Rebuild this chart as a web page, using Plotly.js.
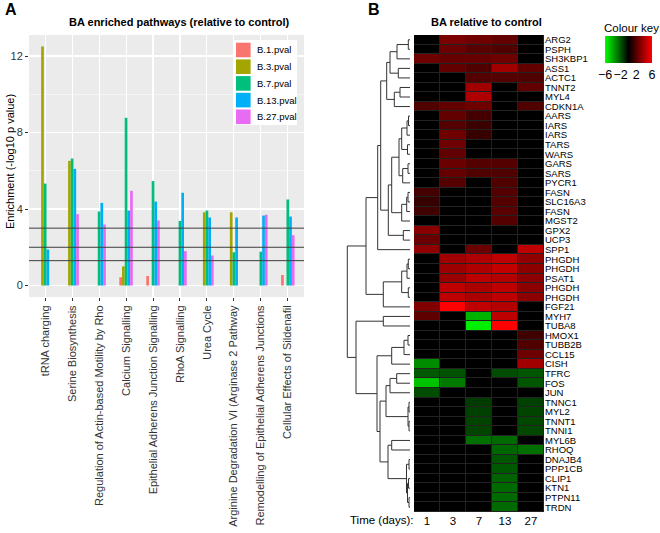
<!DOCTYPE html>
<html><head><meta charset="utf-8">
<script src="https://cdn.plot.ly/plotly-3.0.1.min.js"></script>
<style>html,body{margin:0;padding:0;background:#fff}#chart{width:660px;height:533px}</style>
</head><body><div id="chart"></div>
<script>
// ---------- Panel A data ----------
const pathways = ['tRNA charging','Serine Biosynthesis','Regulation of Actin-based Motility by Rho','Calcium Signalling','Epithelial Adherens Junction Signalling','RhoA Signalling','Urea Cycle','Arginine Degradation VI (Arginase 2 Pathway','Remodelling of Epithelial Adherens Junctions','Cellular Effects of Sildenafil'];
const seriesNames = ['B.1.pval','B.3.pval','B.7.pval','B.13.pval','B.27.pval'];
const seriesColors = ['#F8766D','#A3A500','#00BF7D','#00B0F6','#E76BF3'];
const b1  = [0,    0,    0,    0.43, 0.5,  0,    0,    0,    0,    0.55];
const b3  = [12.5, 6.52, 0,    1.0,  0,    0,    3.83, 3.83, 0,    0];
const b7  = [5.33, 6.64, 3.87, 8.77, 5.46, 3.38, 3.92, 1.74, 1.77, 4.5];
const b13 = [1.88, 6.1,  4.32, 3.92, 4.39, 4.85, 3.56, 3.56, 3.66, 3.61];
const b27 = [0,    3.73, 3.19, 4.95, 3.4,  1.8,  1.57, 0,    3.7,  2.63];
const thresholds = [3, 2, 1.3];
const yTicks = [0, 4, 8, 12];

// ---------- Panel B data ----------
const days = ['1','3','7','13','27'];
const genes = ['ARG2','PSPH','SH3KBP1','ASS1','ACTC1','TNNT2','MYL4','CDKN1A','AARS','IARS','IARS','TARS','WARS','GARS','SARS','PYCR1','FASN','SLC16A3','FASN','MGST2','GPX2','UCP3','SPP1','PHGDH','PHGDH','PSAT1','PHGDH','PHGDH','FGF21','MYH7','TUBA8','HMOX1','TUBB2B','CCL15','CISH','TFRC','FOS','JUN','TNNC1','MYL2','TNNT1','TNNI1','MYL6B','RHOQ','DNAJB4','PPP1CB','CLIP1','KTN1','PTPN11','TRDN'];
const fc = [
 [0,2.9,2.6,2.3,0],[0,2.5,2.1,1.9,0],[2.6,2.4,2.4,2.6,0],[0,2.3,1.9,3.8,2.3],[0,0,2.0,2.0,1.9],
 [0,0,3.8,0,2.3],[0,0,4.1,0,0],[1.9,2.3,2.6,0,1.9],[0,2.3,1.6,0,0],[0,2.0,1.4,0,0],
 [0,2.6,1.3,0,0],[0,2.6,0,0,0],[0,2.3,0,0,0],[0,2.5,2.0,2.0,0],[0,2.4,1.9,1.9,0],
 [0,2.0,0,1.9,0],[1.6,0,0,2.0,0],[1.3,0,0,2.0,0],[1.5,0,0,2.1,0],[0,0,0,2.0,0],
 [3.2,0,0,0,0],[2.5,0,0,0,0],[3.4,0,2.5,0,4.5],[0,3.8,4.1,4.5,3.4],[0,3.7,4.1,4.6,3.3],
 [0,3.6,4.4,4.2,3.3],[0,4.5,4.0,4.5,3.3],[0,4.5,4.0,4.5,3.3],[3.0,6.0,4.5,4.2,0],[2.2,0,-4.2,4.5,0],
 [0,0,-5.6,6.0,0],[0,0,0,0,1.5],[0,0,0,0,1.9],[0,0,0,0,2.6],[-3.3,0,0,0,3.8],
 [-2.1,-1.9,0,-1.8,-2.0],[-4.6,-2.9,0,0,-2.0],[-1.8,0,0,0,0],[0,0,-1.4,0,-1.5],[0,0,-1.5,0,-1.6],
 [0,0,-1.6,0,-1.7],[0,0,-1.6,0,-1.7],[0,0,-2.6,-2.5,0],[0,0,0,-2.4,-2.6],[0,0,0,-2.0,0],
 [0,0,0,-2.1,0],[0,0,0,-2.3,0],[0,0,0,-2.5,0],[0,0,0,-2.5,0],[0,0,0,-2.5,0]
];
// hclust-style merges (negative = leaf row, positive = earlier merge) and heights
const merges = [[-1,-2],[1,-3],[-4,-5],[2,3],[-6,-7],[5,-8],[4,6],[-9,-10],[8,-11],[-12,-13],
 [9,10],[-14,-15],[12,-16],[11,13],[-17,-18],[15,-19],[16,-20],[14,17],[-21,-22],[18,19],
 [7,20],[21,-23],[-24,-25],[23,-26],[-27,-28],[24,25],[26,-29],[22,27],[-30,-31],[-32,-33],
 [30,-34],[31,-35],[-36,-37],[33,-38],[-39,-40],[-41,-42],[35,36],[34,37],[-43,-44],[-45,-46],
 [-47,-48],[-49,-50],[41,42],[40,43],[39,44],[38,45],[32,46],[29,47],[28,48]];
const mergeHeights = [1.7,13,11.7,20,10,15.7,23.3,1.5,3,2.5,
 8.3,2,7.3,11,2,3.3,8.3,18.3,6.7,21.7,
 29.3,32.3,1.7,3,1.7,8.3,26.7,44,26.7,2,
 6,18.3,13.3,20,1,1,2,24,18.3,1,
 1.5,1,2.5,3.5,22,30,33,54,62.7];
const keyTicks = [-6,-2,2,6];

// ---------- helpers ----------
const W = 660, H = 533;
const px = v => v / W, py = v => 1 - v / H;
const FONT = 'Liberation Sans, Arial, Helvetica, sans-serif';

const seriesVals = [b1, b3, b7, b13, b27];
const traces = seriesNames.map((n, i) => ({
  type: 'bar', name: n, x: pathways, y: seriesVals[i],
  marker: {color: seriesColors[i]}, xaxis: 'x', yaxis: 'y', hoverinfo: 'skip', showlegend: false
}));

traces.push({
  type: 'heatmap', x: days, y: genes.map((g, i) => i), z: fc,
  xaxis: 'x2', yaxis: 'y2', zmin: -6, zmax: 6, xgap: 1, ygap: 1,
  colorscale: [[0, '#00ff00'], [0.5, '#000000'], [1, '#ff0000']],
  hoverinfo: 'skip', showlegend: false,
  colorbar: {orientation: 'h', x: px(628.5), xanchor: 'center', y: py(36), yanchor: 'top',
    len: 47, lenmode: 'pixels', thickness: 27, xpad: 0, ypad: 0, outlinewidth: 0,
    tickvals: keyTicks, ticks: '', tickangle: 0, ticklabelposition: 'outside bottom',
    tickfont: {size: 12.5, color: '#000', family: FONT}}
});

// dendrogram segments computed from the merge table
const mPos = [], mH = [];
const dx = [], dy = [];
const info = c => c < 0 ? {y: -c - 1, h: 0} : {y: mPos[c - 1], h: mH[c - 1]};
merges.forEach((m, i) => {
  const a = info(m[0]), b = info(m[1]), h = mergeHeights[i];
  dx.push(a.h, h, h, b.h, null); dy.push(a.y, a.y, b.y, b.y, null);
  mPos[i] = (a.y + b.y) / 2; mH[i] = h;
});
traces.push({type: 'scatter', mode: 'lines', x: dx, y: dy, xaxis: 'x3', yaxis: 'y2',
  line: {color: '#333', width: 1}, hoverinfo: 'skip', showlegend: false, cliponaxis: false});

// manual legend (keys drawn as shapes, labels as text)
const legX = 233, legY = 40, legRow = 16.7, key = 14.6;
const shapes = [
  {type: 'rect', xref: 'x domain', yref: 'y domain', x0: 0, x1: 1, y0: 0, y1: 1,
   fillcolor: '#EBEBEB', line: {width: 0}, layer: 'below'},
  {type: 'rect', xref: 'x2 domain', yref: 'y2 domain', x0: 0, x1: 1, y0: 0, y1: 1,
   fillcolor: '#222', line: {width: 0}, layer: 'below'}
].concat(thresholds.map(t => ({type: 'line', xref: 'x domain', yref: 'y', x0: 0, x1: 1, y0: t, y1: t,
   line: {color: '#3d3d3d', width: 1}})));
shapes.push({type: 'rect', xref: 'paper', yref: 'paper', x0: px(legX), x1: px(297), y0: py(125), y1: py(legY),
  fillcolor: '#fff', line: {width: 0}});
seriesNames.forEach((n, i) => {
  const cy = legY + 10 + i * legRow;
  shapes.push({type: 'rect', xref: 'paper', yref: 'paper', x0: px(236), x1: px(236 + key),
    y0: py(cy + key / 2), y1: py(cy - key / 2), fillcolor: seriesColors[i], line: {width: 0}});
});

const ann = (text, x, y, opts) => Object.assign({text, x: px(x), y: py(y), xref: 'paper', yref: 'paper',
  xanchor: 'center', yanchor: 'middle', showarrow: false,
  font: {family: FONT, size: 11, color: '#000'}}, opts || {});

const annotations = [
  ann('<b>A</b>', 3, 9, {xanchor: 'left', font: {family: FONT, size: 16, color: '#000'}}),
  ann('<b>B</b>', 366, 9, {xanchor: 'left', font: {family: FONT, size: 16, color: '#000'}}),
  ann('<b>BA enriched pathways (relative to control)</b>', 179, 22, {font: {family: FONT, size: 11, color: '#000'}}),
  ann('Enrichment (-log10 p value)', 10, 162, {textangle: -90, font: {family: FONT, size: 11, color: '#000'}}),
  ann('<b>BA relative to control</b>', 486.5, 22, {font: {family: FONT, size: 11, color: '#000'}}),
  ann('Time (days):', 348, 520, {xanchor: 'left', font: {family: FONT, size: 11.5, color: '#000'}}),
  ann('Colour key', 631, 27.5, {font: {family: FONT, size: 11.5, color: '#000'}})
];
seriesNames.forEach((n, i) => {
  annotations.push(ann(n, 255, legY + 10 + i * legRow, {xanchor: 'left', font: {family: FONT, size: 9.5, color: '#000'}}));
});

const layout = {
  width: W, height: H, margin: {l: 0, r: 0, t: 0, b: 0},
  paper_bgcolor: '#fff', plot_bgcolor: 'rgba(0,0,0,0)',
  font: {family: FONT, color: '#000'},
  barmode: 'group', bargap: 0.5, bargroupgap: 0,
  showlegend: false,
  xaxis: {domain: [px(29), px(304)], anchor: 'y', range: [-0.6, 9.6], type: 'category',
    showgrid: true, gridcolor: '#fff', gridwidth: 1.1, zeroline: false, showline: false,
    ticks: 'outside', ticklen: 3, tickcolor: '#333', tickangle: -90,
    tickfont: {size: 11, color: '#333', family: FONT}, automargin: false},
  yaxis: {domain: [py(297), py(35)], anchor: 'x', range: [-0.6, 13.1], tickvals: yTicks,
    showgrid: true, gridcolor: '#fff', gridwidth: 1.1, zeroline: false, showline: false,
    minor: {tickvals: [2, 6, 10], showgrid: true, gridcolor: '#fff', gridwidth: 0.5, ticks: ''},
    ticks: 'outside', ticklen: 3, tickcolor: '#333',
    tickfont: {size: 11, color: '#333', family: FONT}, automargin: false},
  xaxis2: {domain: [px(414), px(544)], anchor: 'y2', type: 'category', ticks: '',
    showgrid: false, zeroline: false, showline: false,
    tickfont: {size: 11.5, color: '#000', family: FONT}, automargin: false},
  yaxis2: {domain: [py(512), py(35)], anchor: 'x2', side: 'right', range: [49.5, -0.5],
    tickvals: genes.map((g, i) => i), ticktext: genes, ticks: '',
    showgrid: false, zeroline: false, showline: false,
    tickfont: {size: 9.5, color: '#000', family: FONT}, automargin: false},
  xaxis3: {domain: [px(346), px(410)], anchor: 'y2', range: [64, 0], visible: false},
  shapes, annotations
};

Plotly.newPlot('chart', traces, layout, {staticPlot: true, displayModeBar: false});
</script>
</body></html>
